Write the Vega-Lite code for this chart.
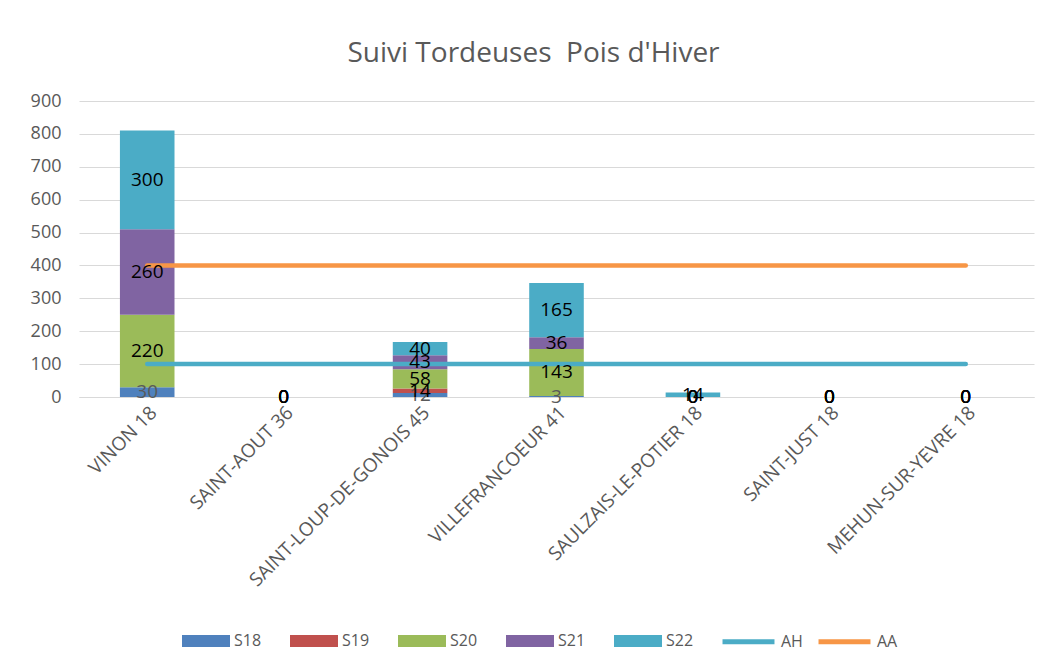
{
  "$schema": "https://vega.github.io/schema/vega-lite/v6.json",
  "width": 955,
  "height": 296,
  "autosize": {"type": "none"},
  "padding": {"left": 79, "top": 101, "right": 16, "bottom": 274},
  "background": "white",
  "config": {
    "font": "Open Sans",
    "view": {"stroke": null},
    "axis": {"labelColor": "#595959", "labelFont": "Open Sans", "labelFontSize": 18, "ticks": false, "title": null, "gridColor": "#d9d9d9", "domainColor": "#d9d9d9", "labelOverlap": false},
    "legend": {"labelColor": "#595959", "labelFont": "Open Sans", "labelFontSize": 16}
  },
  "title": {"text": "Suivi Tordeuses\u00a0 Pois d'Hiver", "font": "Open Sans", "fontSize": 28, "fontWeight": "normal", "color": "#595959", "anchor": "middle", "frame": "group", "offset": 24, "dx": -23},
  "datasets": {
    "bars": [
      {"site": "VINON 18", "serie": "S18", "value": 30},
      {"site": "VINON 18", "serie": "S20", "value": 220},
      {"site": "VINON 18", "serie": "S21", "value": 260},
      {"site": "VINON 18", "serie": "S22", "value": 300},
      {"site": "SAINT-AOUT 36", "serie": "S18", "value": 0},
      {"site": "SAINT-AOUT 36", "serie": "S19", "value": 0},
      {"site": "SAINT-AOUT 36", "serie": "S20", "value": 0},
      {"site": "SAINT-AOUT 36", "serie": "S21", "value": 0},
      {"site": "SAINT-AOUT 36", "serie": "S22", "value": 0},
      {"site": "SAINT-LOUP-DE-GONOIS 45", "serie": "S18", "value": 12},
      {"site": "SAINT-LOUP-DE-GONOIS 45", "serie": "S19", "value": 14},
      {"site": "SAINT-LOUP-DE-GONOIS 45", "serie": "S20", "value": 58},
      {"site": "SAINT-LOUP-DE-GONOIS 45", "serie": "S21", "value": 43},
      {"site": "SAINT-LOUP-DE-GONOIS 45", "serie": "S22", "value": 40},
      {"site": "VILLEFRANCOEUR 41", "serie": "S18", "value": 3},
      {"site": "VILLEFRANCOEUR 41", "serie": "S20", "value": 143},
      {"site": "VILLEFRANCOEUR 41", "serie": "S21", "value": 36},
      {"site": "VILLEFRANCOEUR 41", "serie": "S22", "value": 165},
      {"site": "SAULZAIS-LE-POTIER 18", "serie": "S18", "value": 0},
      {"site": "SAULZAIS-LE-POTIER 18", "serie": "S19", "value": 0},
      {"site": "SAULZAIS-LE-POTIER 18", "serie": "S20", "value": 0},
      {"site": "SAULZAIS-LE-POTIER 18", "serie": "S21", "value": 0},
      {"site": "SAULZAIS-LE-POTIER 18", "serie": "S22", "value": 14},
      {"site": "SAINT-JUST 18", "serie": "S18", "value": 0},
      {"site": "SAINT-JUST 18", "serie": "S19", "value": 0},
      {"site": "SAINT-JUST 18", "serie": "S20", "value": 0},
      {"site": "SAINT-JUST 18", "serie": "S21", "value": 0},
      {"site": "SAINT-JUST 18", "serie": "S22", "value": 0},
      {"site": "MEHUN-SUR-YEVRE 18", "serie": "S18", "value": 0},
      {"site": "MEHUN-SUR-YEVRE 18", "serie": "S19", "value": 0},
      {"site": "MEHUN-SUR-YEVRE 18", "serie": "S20", "value": 0},
      {"site": "MEHUN-SUR-YEVRE 18", "serie": "S21", "value": 0},
      {"site": "MEHUN-SUR-YEVRE 18", "serie": "S22", "value": 0}
    ],
    "lines": [
      {"site": "VINON 18", "serie": "AH", "value": 100},
      {"site": "SAINT-AOUT 36", "serie": "AH", "value": 100},
      {"site": "SAINT-LOUP-DE-GONOIS 45", "serie": "AH", "value": 100},
      {"site": "VILLEFRANCOEUR 41", "serie": "AH", "value": 100},
      {"site": "SAULZAIS-LE-POTIER 18", "serie": "AH", "value": 100},
      {"site": "SAINT-JUST 18", "serie": "AH", "value": 100},
      {"site": "MEHUN-SUR-YEVRE 18", "serie": "AH", "value": 100},
      {"site": "VINON 18", "serie": "AA", "value": 400},
      {"site": "SAINT-AOUT 36", "serie": "AA", "value": 400},
      {"site": "SAINT-LOUP-DE-GONOIS 45", "serie": "AA", "value": 400},
      {"site": "VILLEFRANCOEUR 41", "serie": "AA", "value": 400},
      {"site": "SAULZAIS-LE-POTIER 18", "serie": "AA", "value": 400},
      {"site": "SAINT-JUST 18", "serie": "AA", "value": 400},
      {"site": "MEHUN-SUR-YEVRE 18", "serie": "AA", "value": 400}
    ]
  },
  "encoding": {
    "x": {
      "field": "site", "type": "nominal", "sort": null,
      "scale": {"paddingInner": 0.6, "paddingOuter": 0.3},
      "axis": {"labelAngle": -45, "labelPadding": 6, "labelDx": -24, "labelFontSize": 19, "labelLimit": 400, "domain": true, "grid": false}
    }
  },
  "layer": [
    {
      "data": {"name": "bars"},
      "mark": {"type": "bar"},
      "encoding": {
        "y": {
          "field": "value", "type": "quantitative", "stack": "zero",
          "scale": {"domain": [0, 900], "nice": false},
          "axis": {"values": [0, 100, 200, 300, 400, 500, 600, 700, 800, 900], "tickCount": 10, "domain": false, "grid": true, "labelPadding": 18}
        },
        "fill": {
          "field": "serie", "type": "nominal",
          "scale": {"domain": ["S18", "S19", "S20", "S21", "S22"], "range": ["#4F81BD", "#C0504D", "#9BBB59", "#8064A2", "#4BACC6"]},
          "legend": {"orient": "none", "legendX": 103, "legendY": 516, "direction": "horizontal", "title": null, "symbolType": "M-1,-0.25H1V0.25H-1Z", "symbolSize": 2304, "symbolStrokeWidth": 0, "columnPadding": 28, "labelOffset": 4}
        },
        "order": {"field": "serie"}
      }
    },
    {
      "data": {"name": "lines"},
      "mark": {"type": "line", "strokeWidth": 4.5, "strokeCap": "round"},
      "encoding": {
        "y": {
          "field": "value", "type": "quantitative",
          "axis": {"values": [0, 100, 200, 300, 400, 500, 600, 700, 800, 900], "tickCount": 10, "domain": false, "grid": true, "labelPadding": 18}
        },
        "stroke": {
          "field": "serie", "type": "nominal",
          "scale": {"domain": ["AH", "AA"], "range": ["#4BACC6", "#F79646"]},
          "legend": {"orient": "none", "legendX": 641, "legendY": 512, "direction": "horizontal", "title": null, "symbolType": "stroke", "symbolSize": 2700, "symbolStrokeWidth": 5, "columnPadding": 5, "labelOffset": 4}
        }
      }
    },
    {
      "data": {"name": "bars"},
      "mark": {"type": "text", "fontSize": 19, "font": "Open Sans"},
      "encoding": {
        "y": {
          "field": "value", "type": "quantitative", "stack": "zero", "bandPosition": 0.5,
          "axis": {"values": [0, 100, 200, 300, 400, 500, 600, 700, 800, 900], "tickCount": 10, "domain": false, "grid": true, "labelPadding": 18}
        },
        "detail": {"field": "serie"},
        "order": {"field": "serie"},
        "text": {"field": "value", "type": "quantitative"},
        "color": {"condition": {"test": "datum.serie === 'S18'", "value": "#595959"}, "value": "#000000"}
      }
    }
  ]
}
